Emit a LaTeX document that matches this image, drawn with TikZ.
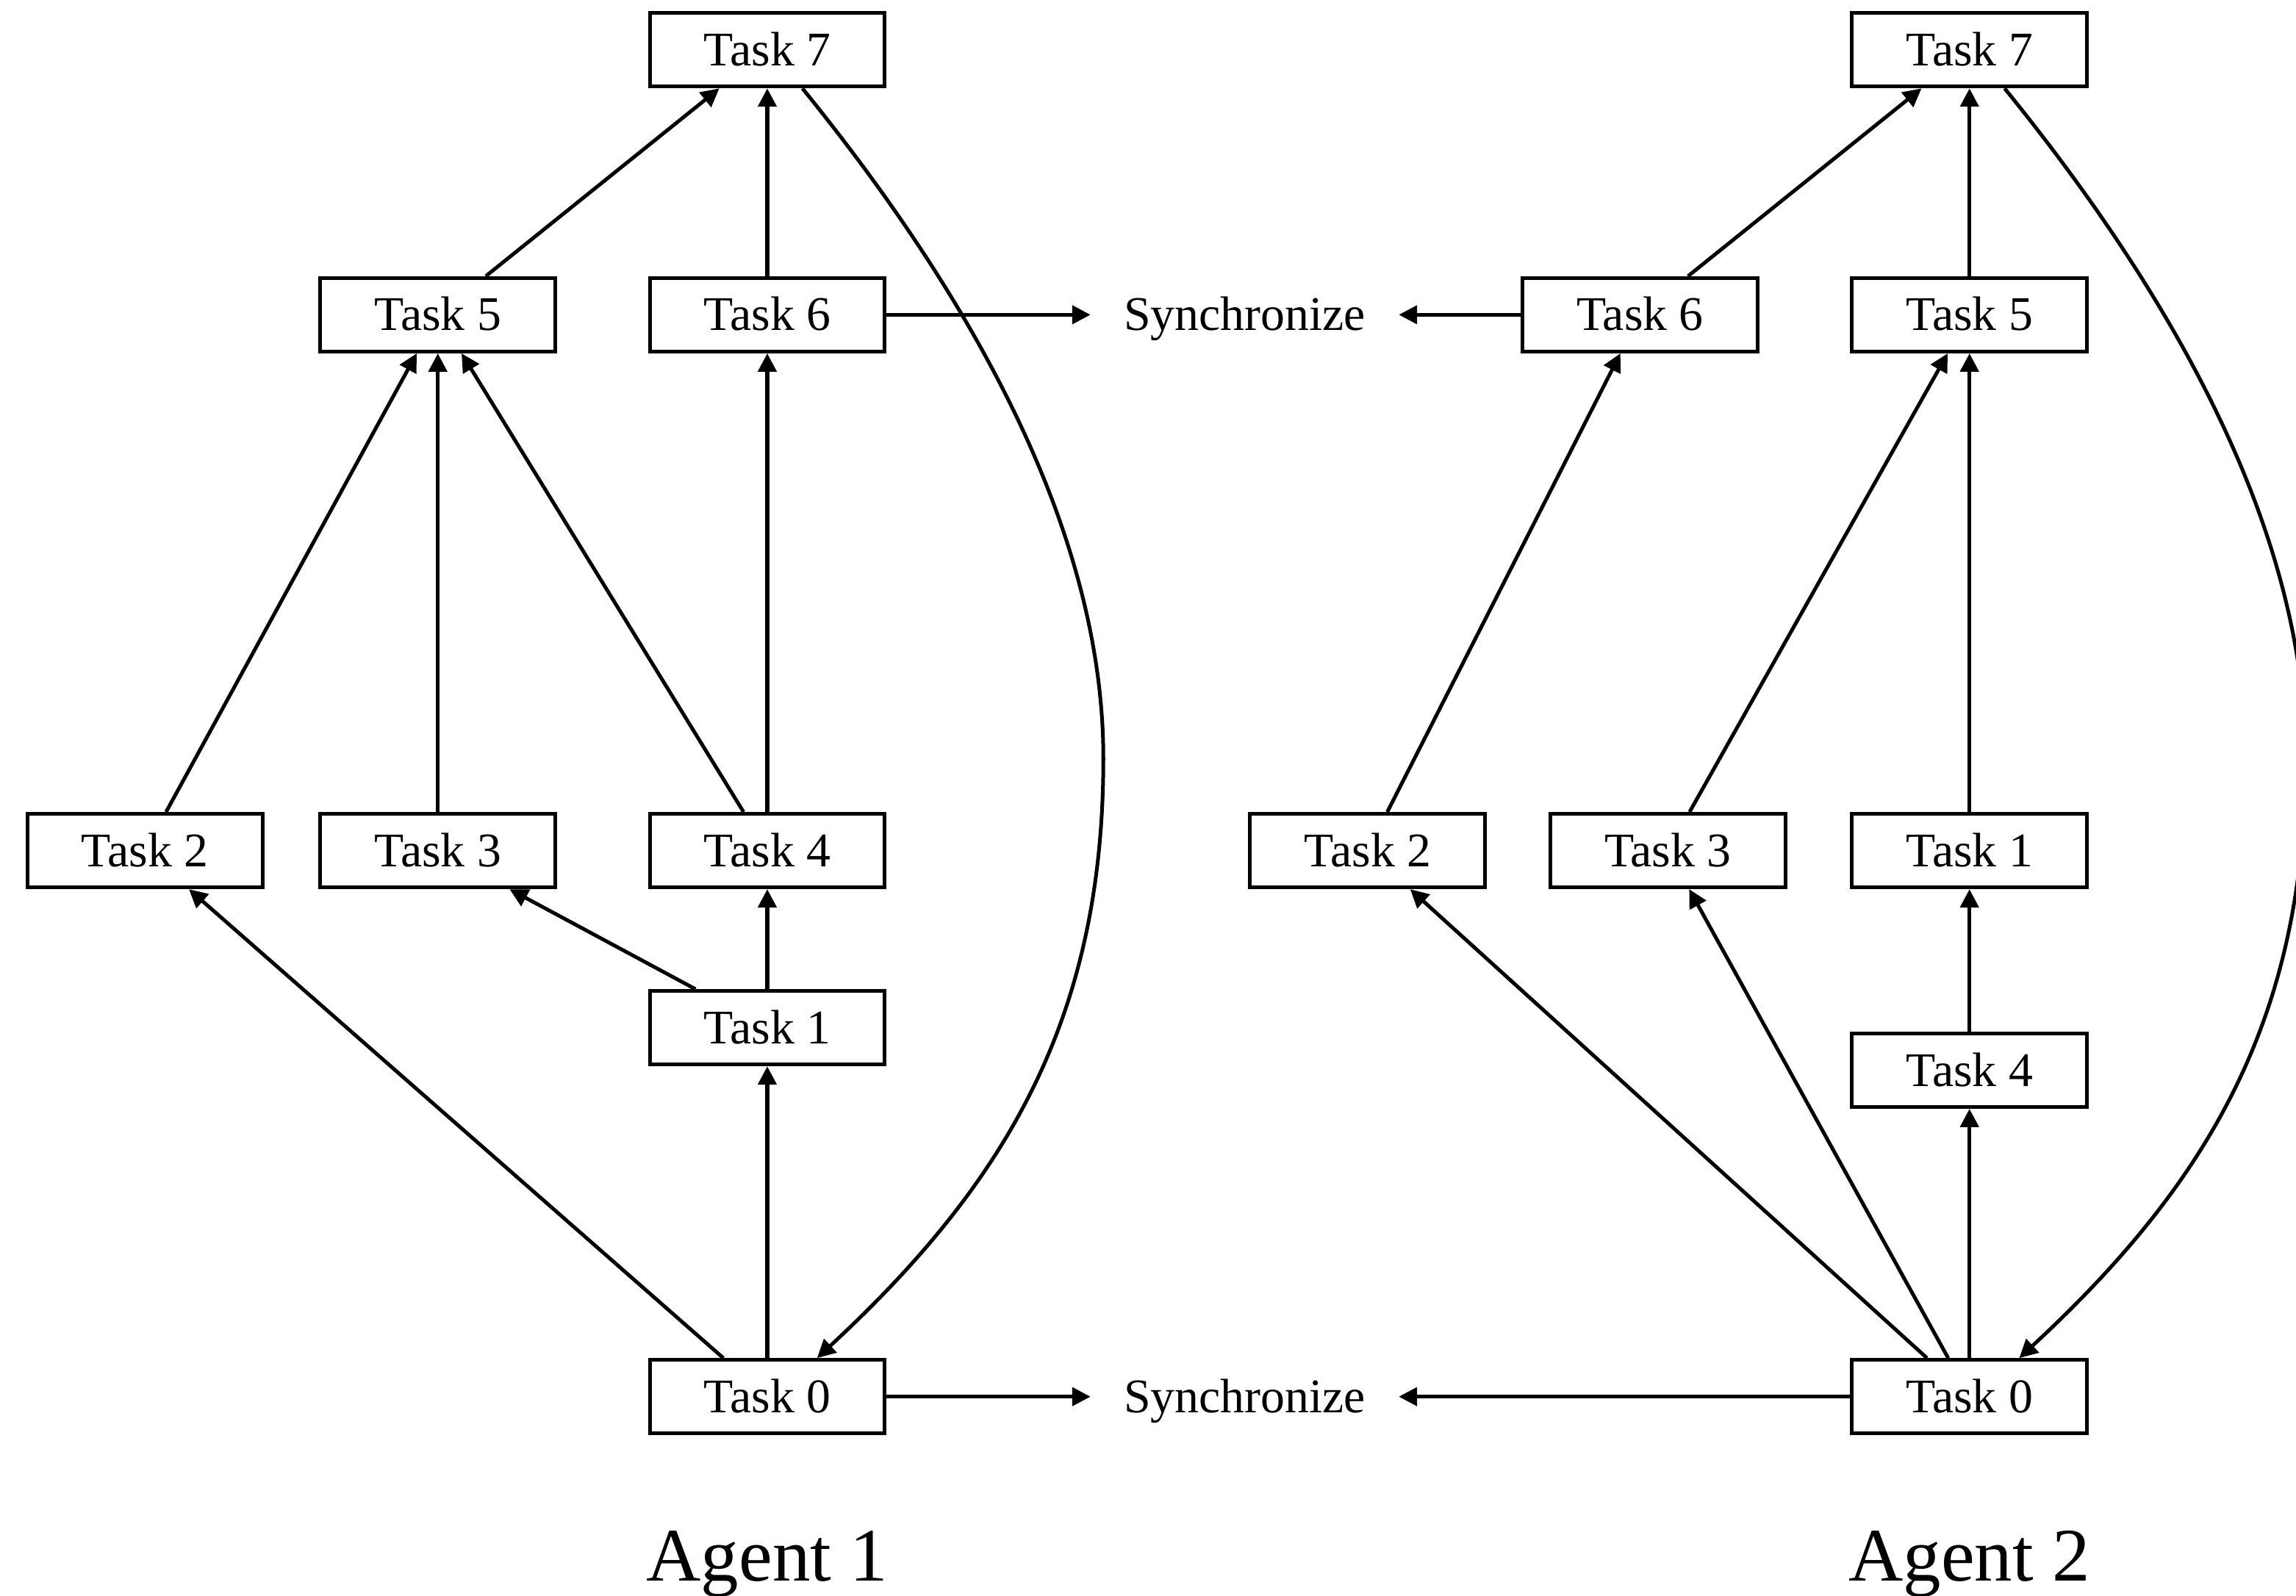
\documentclass[tikz,border=0pt]{standalone}
\usepackage{fontspec}
\setmainfont{Liberation Serif}
\usetikzlibrary{arrows.meta,calc}
\begin{document}
\begin{tikzpicture}[x=0.6966pt,y=-0.6966pt,
  task/.style={draw, line width=1.75pt, minimum width=111.8pt, minimum height=35pt, inner sep=0pt,
    font=\fontsize{23}{27}\selectfont, text height=15.1pt, text depth=0pt},
  sync/.style={minimum width=146.3pt, inner sep=0pt,
    font=\fontsize{23}{27}\selectfont, text height=15.1pt, text depth=0pt},
  agent/.style={font=\fontsize{36}{40}\selectfont, anchor=base, inner sep=0pt},
  edge/.style={line width=1.75pt, -{Triangle[length=8.7pt,width=8.7pt]}},
]
\useasboundingbox (0,0) rectangle (1568,1090);
\clip (0,0) rectangle (1568,1090);

% Agent 1
\node[task] (a7) at (524,34) {Task 7};
\node[task] (a5) at (299,215) {Task 5};
\node[task] (a6) at (524,215) {Task 6};
\node[sync] (s1) at (850,215) {Synchronize};
\node[task] (a2) at (99,581) {Task 2};
\node[task] (a3) at (299,581) {Task 3};
\node[task] (a4) at (524,581) {Task 4};
\node[task] (a1) at (524,702) {Task 1};
\node[task] (a0) at (524,954) {Task 0};
\node[sync] (s2) at (850,954) {Synchronize};
\node[agent] (l1) at (524,1080) {Agent 1};

% Agent 2
\node[task] (b7) at (1345,34) {Task 7};
\node[task] (b6) at (1120,215) {Task 6};
\node[task] (b5) at (1345,215) {Task 5};
\node[task] (b2) at (934,581) {Task 2};
\node[task] (b3) at (1139,581) {Task 3};
\node[task] (b1) at (1345,581) {Task 1};
\node[task] (b4) at (1345,731) {Task 4};
\node[task] (b0) at (1345,954) {Task 0};
\node[agent] (l2) at (1345,1080) {Agent 2};

% Agent 1 edges
\draw[edge] (a5) -- (a7);
\draw[edge] (a6) -- (a7);
\draw[edge] (a2) -- (a5);
\draw[edge] (a3) -- (a5);
\draw[edge] (a4) -- (a5);
\draw[edge] (a4) -- (a6);
\draw[edge] (a6) -- (s1);
\draw[edge] (a1) -- (a4);
\draw[edge] (a1) -- (a3);
\draw[edge] (a0) -- (a1);
\draw[edge] (a0) -- (a2);
\draw[edge] (a0) -- (s2);
\draw[edge] ($(a7.south)+(24,0)$) .. controls (658,196) and (753.5,358) .. (753.5,518)
  .. controls (753.5,698) and (685,810) .. ($(a0.north)+(34,0)$);

% Agent 2 edges
\draw[edge] (b6) -- (b7);
\draw[edge] (b5) -- (b7);
\draw[edge] (b6) -- (s1);
\draw[edge] (b2) -- (b6);
\draw[edge] (b3) -- (b5);
\draw[edge] (b1) -- (b5);
\draw[edge] (b4) -- (b1);
\draw[edge] (b0) -- (b4);
\draw[edge] (b0) -- (b3);
\draw[edge] (b0) -- (b2);
\draw[edge] (b0) -- (s2);
\draw[edge] ($(b7.south)+(24,0)$) .. controls (1479,196) and (1574.5,358) .. (1574.5,518)
  .. controls (1574.5,698) and (1506,810) .. ($(b0.north)+(34,0)$);
\end{tikzpicture}
\end{document}
